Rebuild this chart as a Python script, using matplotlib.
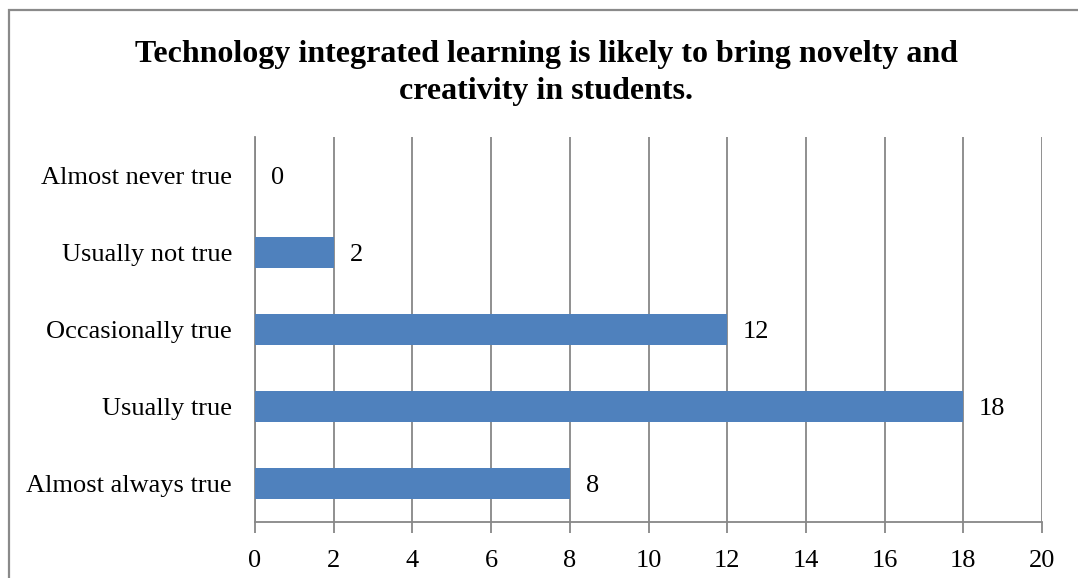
import matplotlib.pyplot as plt
from matplotlib.patches import Rectangle

categories = ["Almost always true", "Usually true", "Occasionally true",
              "Usually not true", "Almost never true"]
counts = [8, 18, 12, 2, 0]
x_ticks = [0, 2, 4, 6, 8, 10, 12, 14, 16, 18, 20]

W, H, DPI = 1078, 578, 100
plt.rcParams['font.family'] = ['Liberation Serif', 'DejaVu Serif']

fig = plt.figure(figsize=(W / DPI, H / DPI), dpi=DPI)
fig.patch.set_facecolor('white')

# outer chart frame (open on the right and bottom edges)
frame = Rectangle((8.5 / W, -0.1), 1.2, (H - 9.5) / H + 0.1,
                  transform=fig.transFigure, fill=False,
                  edgecolor='#8a8a8a', linewidth=1.6, zorder=0)
fig.patches.append(frame)

ax = fig.add_axes([255 / W, 1 - 522 / H, (1042 - 255) / W, (522 - 137) / H])

grid_c = '#878787'
fs = 19
ypos = list(range(len(categories)))
ax.barh(ypos, counts, height=0.39, color='#4f81bd', zorder=3)

for y, v in zip(ypos, counts):
    ax.text(v + 0.4, y, str(v), va='center_baseline', ha='left', fontsize=fs,
            color='black')

ax.set_xlim(0, 20)
ax.set_ylim(-0.5, len(categories) - 0.5)
ax.set_xticks(x_ticks)
ax.set_xticklabels([str(t) for t in x_ticks], fontsize=fs)
ax.set_yticks(ypos)
ax.set_yticklabels(categories, fontsize=fs, va='center_baseline')

ax.xaxis.grid(True, color=grid_c, linewidth=1.3, zorder=0)
ax.set_axisbelow(True)
for s in ['top', 'right']:
    ax.spines[s].set_visible(False)
ax.spines['left'].set_color(grid_c)
ax.spines['bottom'].set_color(grid_c)
ax.spines['left'].set_linewidth(1.3)
ax.spines['bottom'].set_linewidth(1.3)
ax.tick_params(axis='x', direction='out', length=8, width=1.3, color=grid_c,
               pad=12)
ax.tick_params(axis='y', length=0, pad=16.5)

fig.text(546 / W, 1 - 73 / H,
         "Technology integrated learning is likely to bring novelty and\n"
         "creativity in students.",
         ha='center', va='center', fontsize=23, fontweight='bold',
         linespacing=1.32)

fig.savefig('out.png', dpi=DPI)
